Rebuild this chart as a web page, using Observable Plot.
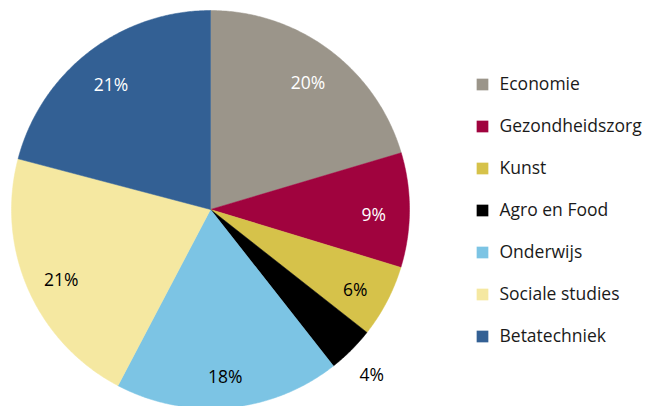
<!DOCTYPE html>
<html>
<head>
<meta charset="utf-8">
<script src="https://cdn.jsdelivr.net/npm/d3@7"></script>
<script src="https://cdn.jsdelivr.net/npm/@observablehq/plot@0.6"></script>
<style>
  html, body { margin: 0; padding: 0; background: #fff; }
  #wrap { position: relative; width: 647px; height: 406px; overflow: hidden; font-family: "Open Sans", Lato, sans-serif; }
  #pie { position: absolute; left: 0; top: 0; }
  #legend { position: absolute; left: 475px; top: 60px; }
</style>
</head>
<body>
<div id="wrap"><div id="pie"></div><div id="legend"></div></div>
<script>
const categories = ["Economie", "Gezondheidszorg", "Kunst", "Agro en Food", "Onderwijs", "Sociale studies", "Betatechniek"];
const values = [20.4, 9.3, 5.9, 3.8, 18.3, 21.4, 20.9];
const labels = ["20%", "9%", "6%", "4%", "18%", "21%", "21%"];
const colors = ["#9b958a", "#a0033e", "#d6c24a", "#000000", "#7cc4e4", "#f5e8a1", "#336094"];
const whiteLabelCategories = ["Economie", "Gezondheidszorg", "Betatechniek"];

const total = d3.sum(values);
const slices = [];
let acc = 0;
categories.forEach((c, i) => {
  const a0 = acc / total * 2 * Math.PI;
  acc += values[i];
  const a1 = acc / total * 2 * Math.PI;
  slices.push({category: c, value: values[i], label: labels[i], a0, a1});
});

// polygon points for each slice (angles clockwise from top)
const pts = [];
for (const s of slices) {
  pts.push({category: s.category, x: 0, y: 0});
  const n = Math.max(2, Math.ceil((s.a1 - s.a0) / (Math.PI / 360)));
  for (let k = 0; k <= n; k++) {
    const a = s.a0 + (s.a1 - s.a0) * k / n;
    pts.push({category: s.category, x: Math.sin(a), y: Math.cos(a)});
  }
  pts.push({category: s.category, x: 0, y: 0});
}

const labelPts = slices.map(s => {
  const a = (s.a0 + s.a1) / 2;
  const r = s.value < 5 ? 1.145 : 0.82;
  return {category: s.category, label: s.label, x: r * Math.sin(a), y: r * Math.cos(a)};
});

const color = {domain: categories, range: colors};
const font = "'Open Sans', Lato, sans-serif";

const pie = Plot.plot({
  width: 420,
  height: 406,
  margin: 0,
  x: {domain: [-1.0553, 1.0553], axis: null},
  y: {domain: [-0.99, 1.0503], axis: null},
  color,
  style: {fontFamily: font, background: "transparent", overflow: "visible"},
  marks: [
    Plot.line(pts, {x: "x", y: "y", z: "category", fill: "category", stroke: "category", strokeWidth: 0.5}),
    Plot.text(labelPts, {
      x: "x", y: "y", text: "label", dy: 5,
      fill: d => whiteLabelCategories.includes(d.category) ? "white" : "black",
      fontSize: 17.5
    })
  ]
});
document.getElementById("pie").appendChild(pie);

const legend = Plot.plot({
  width: 172,
  height: 300,
  margin: 0,
  x: {axis: null},
  y: {type: "band", domain: categories, padding: 0, axis: null},
  color,
  style: {fontFamily: font, background: "transparent", overflow: "visible"},
  marks: [
    Plot.dot(categories, {y: d => d, frameAnchor: "left", dx: 7, symbol: "square", r: 6.6, fill: d => d}),
    Plot.text(categories, {y: d => d, frameAnchor: "left", dx: 24, textAnchor: "start", text: d => d, fontSize: 17.5, fill: "#1a1a1a"})
  ]
});
document.getElementById("legend").appendChild(legend);
</script>
</body>
</html>
